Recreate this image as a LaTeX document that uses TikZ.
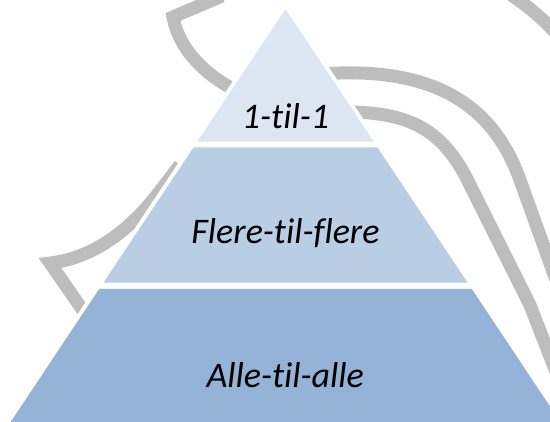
\documentclass[tikz,border=0pt]{standalone}
\usepackage{fontspec}
\setmainfont{Carlito}[Ligatures=NoCommon]
\definecolor{layA}{HTML}{DCE6F2}
\definecolor{layB}{HTML}{B9CDE5}
\definecolor{layC}{HTML}{95B3D7}
\definecolor{wm}{HTML}{BDBDBD}
\begin{document}
\begin{tikzpicture}[x=1pt,y=-1pt,
  wmstroke/.style={draw=wm, line width=13pt, line join=miter},
  lbl/.style={font=\fontsize{36}{40}\selectfont\itshape, anchor=base, inner sep=0pt, text=black}]
\useasboundingbox (0,0) rectangle (550,422);
\clip (0,0) rectangle (550,422);
\fill[white] (0,0) rectangle (550,422);
% background strokes
\draw[wmstroke] (222,-4) -- (173,17) .. controls (178,45) and (200,72) .. (235,90) -- (245,95);
\draw[wmstroke] (180,165) -- (160,191) .. controls (132,228) and (95,258) .. (50,263) -- (100,335);
\draw[wmstroke] (320,74) .. controls (440,65) and (495,110) .. (520,180) -- (556,280);
\draw[wmstroke] (345,112) .. controls (410,112) and (440,130) .. (465,175) -- (530,305) -- (556,372);
\draw[wmstroke] (510,-6) .. controls (530,8) and (545,20) .. (560,38);
% white halo
\draw[white, fill=white, line width=8pt, line join=round] (285.5,9.3) -- (5.3,430) -- (565.7,430) -- cycle;
% layers
\fill[layA] (285.5,9.3) -- (197.3,141.7) -- (373.7,141.7) -- cycle;
\fill[layB] (193.5,147.5) -- (377.5,147.5) -- (467.6,282.7) -- (103.4,282.7) -- cycle;
\fill[layC] (99.2,289) -- (471.8,289) -- (565.7,430) -- (5.3,430) -- cycle;
% labels
\node[lbl] (t1) at (285.5,128.3) {1-til-1};
\node[lbl] (t2) at (285.5,243.3) {Flere-til-flere};
\node[lbl] (t3) at (285.2,388) {Alle-til-alle};
\end{tikzpicture}
\end{document}
